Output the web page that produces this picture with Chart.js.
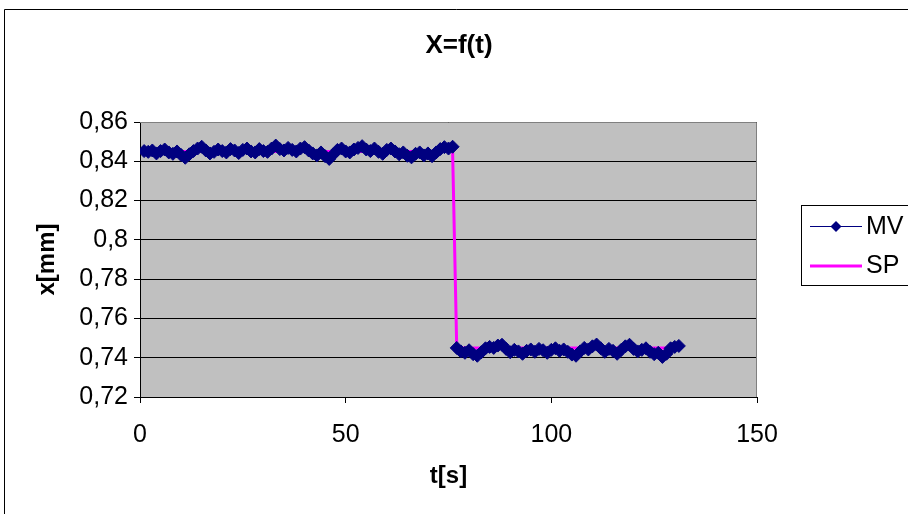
<!DOCTYPE html>
<html>
<head>
<meta charset="utf-8">
<title>X=f(t)</title>
<script src="https://cdn.jsdelivr.net/npm/chart.js@4"></script>
<style>
    html, body { margin: 0; padding: 0; background: #fff; }
    #chart { display: block; }
</style>
</head>
<body>
<canvas id="chart" width="908" height="514"></canvas>
<script>
// time axis (s)
const times = [
    1, 2, 3, 4, 5, 6, 7, 8, 9, 10, 11, 12, 13, 14, 15, 16, 17, 18, 19, 20,
    21, 22, 23, 24, 25, 26, 27, 28, 29, 30, 31, 32, 33, 34, 35, 36, 37, 38, 39, 40,
    41, 42, 43, 44, 45, 46, 47, 48, 49, 50, 51, 52, 53, 54, 55, 56, 57, 58, 59, 60,
    61, 62, 63, 64, 65, 66, 67, 68, 69, 70, 71, 72, 73, 74, 75, 76,
    77, 78, 79, 80, 81, 82, 83, 84, 85, 86, 87, 88, 89, 90, 91, 92, 93, 94, 95, 96,
    97, 98, 99, 100, 101, 102, 103, 104, 105, 106, 107, 108, 109, 110, 111, 112, 113, 114, 115, 116,
    117, 118, 119, 120, 121, 122, 123, 124, 125, 126, 127, 128, 129, 130, 131
];

// measured value x[mm]
const mvValues = [
    0.8452, 0.8448, 0.8455, 0.8440, 0.8452, 0.8460, 0.8445, 0.8438, 0.8450, 0.8432,
    0.8418, 0.8436, 0.8452, 0.8465, 0.8474, 0.8455, 0.8440, 0.8448, 0.8460, 0.8452,
    0.8445, 0.8462, 0.8455, 0.8442, 0.8458, 0.8465, 0.8450, 0.8445, 0.8462, 0.8452,
    0.8448, 0.8465, 0.8480, 0.8462, 0.8455, 0.8468, 0.8458, 0.8450, 0.8465, 0.8472,
    0.8455, 0.8440, 0.8430, 0.8445, 0.8426, 0.8412, 0.8435, 0.8458, 0.8465, 0.8450,
    0.8445, 0.8460, 0.8468, 0.8477, 0.8460, 0.8452, 0.8465, 0.8448, 0.8438, 0.8458,
    0.8465, 0.8450, 0.8436, 0.8445, 0.8428, 0.8420, 0.8438, 0.8445, 0.8430, 0.8440,
    0.8426, 0.8445, 0.8462, 0.8472, 0.8465, 0.8474,
    0.7450, 0.7432, 0.7425, 0.7438, 0.7418, 0.7410, 0.7428, 0.7448, 0.7455, 0.7450,
    0.7462, 0.7466, 0.7445, 0.7428, 0.7440, 0.7432, 0.7420, 0.7435, 0.7442, 0.7430,
    0.7445, 0.7438, 0.7425, 0.7440, 0.7448, 0.7435, 0.7442, 0.7430, 0.7416, 0.7410,
    0.7432, 0.7450, 0.7442, 0.7458, 0.7467, 0.7448, 0.7430, 0.7445, 0.7435, 0.7420,
    0.7440, 0.7458, 0.7466, 0.7445, 0.7432, 0.7440, 0.7448, 0.7430, 0.7418, 0.7425,
    0.7404, 0.7420, 0.7448, 0.7455, 0.7460
];

// set point x[mm]
const spTimes = [1, 76, 77, 131];
const spValues = [0.845, 0.845, 0.745, 0.745];

const xTicks = [0, 50, 100, 150];
const yTicks = [0.72, 0.74, 0.76, 0.78, 0.8, 0.82, 0.84, 0.86];

const FONT = 'Arial, "Liberation Sans", sans-serif';

const mvData = times.map((t, i) => ({ x: t, y: mvValues[i] }));
const spData = spTimes.map((t, i) => ({ x: t, y: spValues[i] }));

// background, frame, title and legend in the Excel look
const excelLook = {
    id: 'excelLook',
    beforeDraw(chart) {
        const { ctx, chartArea: a } = chart;
        ctx.save();
        ctx.fillStyle = '#ffffff';
        ctx.fillRect(0, 0, chart.width, chart.height);
        ctx.strokeStyle = '#000';
        ctx.lineWidth = 1;
        ctx.beginPath();
        ctx.moveTo(4.5, chart.height + 2);
        ctx.lineTo(4.5, 9.5);
        ctx.lineTo(chart.width + 2, 9.5);
        ctx.stroke();
        ctx.fillStyle = '#c0c0c0';
        ctx.fillRect(a.left, a.top, a.right - a.left, a.bottom - a.top);
        ctx.restore();
    },
    afterDatasetsDraw(chart) {
        const { ctx, chartArea: a } = chart;
        ctx.save();
        ctx.strokeStyle = '#808080';
        ctx.lineWidth = 1;
        ctx.beginPath();
        ctx.moveTo(a.left, a.top + 0.5);
        ctx.lineTo(a.right - 0.5, a.top + 0.5);
        ctx.lineTo(a.right - 0.5, a.bottom);
        ctx.stroke();
        ctx.restore();
    },
    afterDraw(chart) {
        const { ctx } = chart;
        const ds = chart.data.datasets;
        ctx.save();
        ctx.fillStyle = '#000';
        ctx.font = 'bold 26px ' + FONT;
        ctx.textAlign = 'center';
        ctx.textBaseline = 'middle';
        ctx.fillText('X=f(t)', 459, 46);

        // legend
        ctx.strokeStyle = '#000';
        ctx.lineWidth = 1;
        ctx.strokeRect(801.5, 205.5, 200, 80);
        ctx.font = '25px ' + FONT;
        ctx.textAlign = 'left';

        ctx.strokeStyle = ds[0].borderColor;
        ctx.beginPath();
        ctx.moveTo(810, 226.5);
        ctx.lineTo(862, 226.5);
        ctx.stroke();
        ctx.fillStyle = ds[0].pointBackgroundColor;
        ctx.beginPath();
        ctx.moveTo(836, 221);
        ctx.lineTo(841.5, 226.5);
        ctx.lineTo(836, 232);
        ctx.lineTo(830.5, 226.5);
        ctx.closePath();
        ctx.fill();
        ctx.fillStyle = '#000';
        ctx.fillText(ds[0].label, 866, 227);

        ctx.strokeStyle = ds[1].borderColor;
        ctx.lineWidth = ds[1].borderWidth;
        ctx.beginPath();
        ctx.moveTo(810, 266);
        ctx.lineTo(862, 266);
        ctx.stroke();
        ctx.fillText(ds[1].label, 866, 266);
        ctx.restore();
    }
};

new Chart(document.getElementById('chart'), {
    type: 'line',
    data: {
        datasets: [{
            label: 'MV',
            data: mvData,
            borderColor: '#000080',
            borderWidth: 1,
            // the step between the two levels shows only the SP line
            segment: {
                borderColor: c => Math.abs(c.p1.parsed.y - c.p0.parsed.y) > 0.05 ? 'rgba(0,0,0,0)' : '#000080'
            },
            pointStyle: 'rectRot',
            pointRadius: 6.5,
            pointBackgroundColor: '#000080',
            pointBorderColor: '#000080',
            pointBorderWidth: 1,
            tension: 0
        }, {
            label: 'SP',
            data: spData,
            borderColor: '#ff00ff',
            borderWidth: 3,
            pointRadius: 0,
            tension: 0
        }]
    },
    options: {
        responsive: false,
        animation: false,
        layout: { padding: { top: 122, right: 151, left: 0, bottom: 0 } },
        plugins: {
            legend: { display: false },
            title: { display: false },
            tooltip: { enabled: false }
        },
        scales: {
            x: {
                type: 'linear',
                min: 0,
                max: 150,
                afterFit(scale) { scale.height = 117; },
                afterBuildTicks(scale) { scale.ticks = xTicks.map(v => ({ value: v })); },
                grid: { drawOnChartArea: false, color: '#000', tickLength: 6 },
                border: { color: '#000' },
                ticks: { color: '#000', font: { family: FONT, size: 25 }, padding: 17, maxRotation: 0 },
                title: {
                    display: true,
                    text: 't[s]',
                    color: '#000',
                    font: { family: FONT, size: 24, weight: 'bold' },
                    padding: { top: 0, bottom: 23 }
                }
            },
            y: {
                min: 0.72,
                max: 0.86,
                afterFit(scale) { scale.width = 140; },
                afterBuildTicks(scale) { scale.ticks = yTicks.map(v => ({ value: v })); },
                grid: { color: '#000', tickLength: 6 },
                border: { color: '#000' },
                ticks: {
                    color: '#000',
                    font: { family: FONT, size: 25 },
                    padding: 6,
                    callback: v => String(parseFloat(v.toFixed(2))).replace('.', ',')
                },
                title: {
                    display: true,
                    text: 'x[mm]',
                    color: '#000',
                    font: { family: FONT, size: 24, weight: 'bold' },
                    padding: { top: 33, bottom: 0 }
                }
            }
        }
    },
    plugins: [excelLook]
});
</script>
</body>
</html>
